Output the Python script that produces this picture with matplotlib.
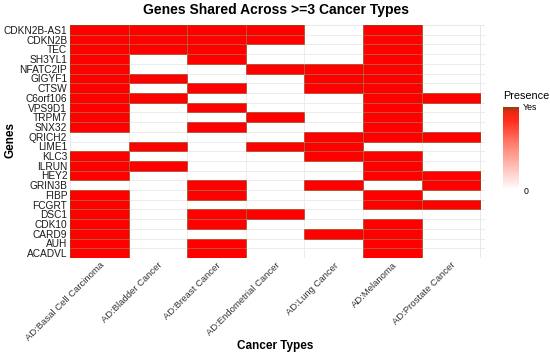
import numpy as np
import matplotlib
matplotlib.use("Agg")
import matplotlib.pyplot as plt
from matplotlib.colors import LinearSegmentedColormap, Normalize
from matplotlib.cm import ScalarMappable

plt.rcParams["font.family"] = ["Liberation Sans", "DejaVu Sans"]

genes = ["CDKN2B-AS1", "CDKN2B", "TEC", "SH3YL1", "NFATC2IP", "GIGYF1", "CTSW",
         "C6orf106", "VPS9D1", "TRPM7", "SNX32", "QRICH2", "LIME1", "KLC3",
         "ILRUN", "HEY2", "GRIN3B", "FIBP", "FCGRT", "DSC1", "CDK10", "CARD9",
         "AUH", "ACADVL"]

cancer_types = ["AD:Basal Cell Carcinoma", "AD:Bladder Cancer", "AD:Breast Cancer",
                "AD:Endometrial Cancer", "AD:Lung Cancer", "AD:Melanoma",
                "AD:Prostate Cancer"]

# presence (1) / absence (0) per cancer type, genes in the order above
basal =       [1, 1, 1, 1, 1, 1, 1, 1, 1, 1, 1, 0, 0, 1, 1, 1, 0, 1, 1, 1, 1, 1, 1, 1]
bladder =     [1, 1, 1, 0, 0, 1, 0, 1, 0, 0, 0, 0, 1, 0, 1, 0, 0, 0, 0, 0, 0, 0, 0, 0]
breast =      [1, 1, 1, 1, 0, 0, 1, 0, 1, 0, 1, 0, 0, 0, 0, 0, 1, 1, 0, 1, 1, 0, 1, 1]
endometrial = [1, 1, 0, 0, 1, 0, 0, 0, 0, 1, 0, 0, 1, 0, 0, 0, 0, 0, 0, 1, 0, 0, 0, 0]
lung =        [0, 0, 0, 0, 1, 1, 1, 0, 0, 0, 0, 1, 1, 1, 0, 0, 1, 0, 0, 0, 0, 1, 0, 0]
melanoma =    [1, 1, 1, 1, 1, 1, 1, 1, 1, 1, 1, 1, 0, 1, 1, 1, 0, 1, 1, 0, 1, 1, 1, 1]
prostate =    [0, 0, 0, 0, 0, 0, 0, 1, 0, 0, 0, 1, 0, 0, 0, 1, 1, 0, 1, 0, 0, 0, 0, 0]

columns = [basal, bladder, breast, endometrial, lung, melanoma, prostate]

fig = plt.figure(figsize=(5.5, 3.58), dpi=100)
ax = fig.add_axes([70 / 550, 1 - 258 / 358, 415 / 550, 233 / 358])

n_rows, n_cols = len(genes), len(cancer_types)
xe = np.arange(n_cols + 1) - 0.5
ye = np.arange(n_rows + 1) - 0.5

# light panel grid
for y in ye:
    ax.axhline(y, color="#E4E4E4", lw=0.6, zorder=0)
for x in xe:
    ax.axvline(x, color="#E4E4E4", lw=0.6, zorder=0)

# red tiles for genes present in a cancer type
for j, col in enumerate(columns):
    rows = np.flatnonzero(col)
    ax.bar(np.full(len(rows), j), 1.0, width=1.0, bottom=rows - 0.5,
           color="#FF0000", edgecolor="#A8320E", linewidth=0.7, zorder=2)

# faint lines over the tiles
for y in ye[1:-1]:
    ax.axhline(y, color="white", lw=0.5, alpha=0.25, zorder=3)
for x in xe[1:-1]:
    ax.axvline(x, color="white", lw=0.5, alpha=0.25, zorder=3)

ax.set_xlim(-0.5, n_cols - 0.42)
ax.set_ylim(n_rows - 0.5, -0.5)
for s in ax.spines.values():
    s.set_visible(False)

ax.set_xticks(np.arange(n_cols))
ax.set_xticklabels(cancer_types, rotation=45, ha="right", rotation_mode="anchor",
                   fontsize=6.8, color="#333333")
ax.set_yticks(np.arange(n_rows))
ax.set_yticklabels(genes, fontsize=7.3, color="#1A1A1A")
ax.tick_params(length=0, pad=2)

fig.text(275 / 550, 1 - 346 / 358, "Cancer Types", ha="center", va="center",
         fontsize=8.5, fontweight="bold")
fig.text(11 / 550, 1 - 140 / 358, "Genes", ha="center", va="center",
         rotation=90, fontsize=8.5, fontweight="bold")
fig.text(276 / 550, 1 - 10 / 358, "Genes Shared Across >=3 Cancer Types",
         ha="center", va="center", fontsize=10, fontweight="bold")

# legend colour bar
bar_cmap = LinearSegmentedColormap.from_list(
    "presence", [(0, "#FFFFFF"), (0.55, "#FF8070"), (0.85, "#FF2A18"),
                 (0.94, "#E82810"), (1, "#9A3A10")])
cax = fig.add_axes([503 / 550, 1 - 190 / 358, 16 / 550, 83 / 358])
cb = fig.colorbar(ScalarMappable(norm=Normalize(0, 1), cmap=bar_cmap), cax=cax)
cb.outline.set_visible(False)
cb.set_ticks([0, 1])
cb.set_ticklabels(["0", "Yes"])
cb.ax.tick_params(length=0, labelsize=6.3, pad=3)
fig.text(503 / 550, 1 - 96 / 358, "Presence", ha="left", va="center", fontsize=7.8)

fig.savefig("out.png", dpi=100)
